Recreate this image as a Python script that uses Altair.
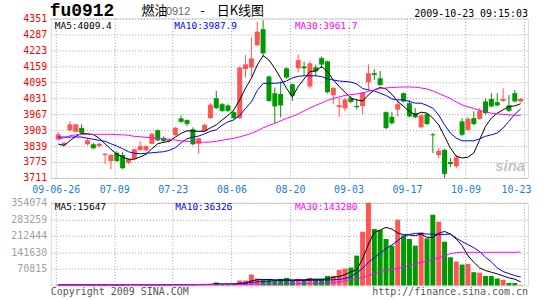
import altair as alt
import pandas as pd

# ---------------- data ----------------
dates = ["06-26","06-29","06-30","07-01","07-02","07-03","07-06","07-07","07-08","07-09",
         "07-10","07-13","07-14","07-15","07-16","07-17","07-20","07-21","07-22","07-23",
         "07-24","07-27","07-28","07-29","07-30","07-31","08-03","08-04","08-05","08-06",
         "08-07","08-10","08-11","08-12","08-13","08-14","08-17","08-18","08-19","08-20",
         "08-21","08-24","08-25","08-26","08-27","08-28","08-31","09-01","09-02","09-03",
         "09-04","09-07","09-08","09-09","09-10","09-11","09-14","09-15","09-16","09-17",
         "09-18","09-21","09-22","09-23","09-24","09-25","09-28","09-29","09-30","10-09",
         "10-12","10-13","10-14","10-15","10-16","10-19","10-20","10-21","10-22","10-23"]

opens = [3866,3843,3902,3896,3912,3846,3846,3839,3803,3779,
         3812,3803,3772,3788,3823,3822,3848,3902,3872,3859,
         3883,3950,3943,3906,3848,3900,3951,4031,4007,4002,
         3975,3951,4148,4154,4244,4308,4118,4051,4048,4151,
         4087,4151,4158,4078,4155,4192,4179,4043,3995,3990,
         4032,4000,3999,4095,4131,4111,3975,3956,3985,4051,
         4011,3971,3914,3967,3886,3802,3824,3775,3758,3938,
         3904,3951,3948,4018,4028,4015,4020,4002,4051,4018]

closes = [3886,3852,3926,3926,3892,3862,3830,3848,3808,3803,
          3779,3750,3786,3826,3839,3839,3888,3862,3859,3866,
          3912,3936,3928,3846,3870,3924,4005,3991,3980,3980,
          3951,4154,4167,4191,4298,4211,4020,3998,4002,4114,
          4042,4184,4151,4171,4139,4166,4055,4072,4003,4026,
          4016,3995,4052,4131,4124,4084,3911,3931,4007,4018,
          3958,3954,3962,3927,3882,3820,3727,3767,3794,3884,
          3948,3927,3980,3971,3998,4002,4028,3980,4018,4028]

highs = [3896,3856,3939,3928,3926,3872,3852,3852,3810,3806,
         3818,3815,3790,3830,3859,3842,3892,3906,3878,3868,
         3916,3962,3946,3914,3872,3928,4011,4060,4012,4006,
         3980,4158,4204,4274,4338,4344,4122,4074,4098,4155,
         4090,4207,4178,4180,4166,4199,4182,4076,4032,4030,
         4040,4026,4056,4167,4148,4140,3978,3975,4020,4054,
         4024,3991,3966,3971,3891,3831,3828,3791,3804,3951,
         3956,3978,3991,4031,4051,4051,4071,4044,4064,4032]

lows = [3859,3838,3898,3894,3888,3842,3826,3832,3766,3746,
        3775,3746,3766,3784,3820,3818,3846,3858,3855,3856,
        3880,3932,3918,3842,3808,3896,3948,3988,3975,3976,
        3946,3948,4114,4118,4240,4198,4016,3931,3954,4110,
        4020,4135,4122,4070,4119,4152,4050,4006,3955,3979,
        4010,3986,3966,4064,4104,4080,3906,3924,3958,4014,
        3954,3950,3910,3922,3811,3790,3711,3755,3751,3878,
        3900,3922,3944,3966,3994,3998,4016,3976,4014,4014]

ma5 = [3847,3841,3860,3878,3890,3888,3885,3870,3848,3826,
       3806,3795,3786,3786,3795,3806,3828,3848,3854,3858,
       3875,3890,3900,3899,3898,3898,3912,3924,3944,3962,
       3984,4024,4071,4111,4164,4202,4184,4151,4111,4071,
       4036,4078,4108,4138,4140,4158,4138,4104,4078,4055,
       4031,4024,4020,4044,4064,4074,4068,4047,4018,3998,
       3978,3964,3975,3971,3951,3924,3878,3831,3798,3791,
       3794,3811,3864,3918,3951,3971,3984,3998,4000,4009]

ma10 = [3875,3875,3875,3875,3875,3870,3866,3862,3858,3848,
        3839,3828,3816,3810,3808,3810,3812,3814,3816,3822,
        3832,3852,3868,3875,3879,3888,3898,3904,3922,3936,
        3944,3962,3990,4016,4062,4090,4091,4091,4093,4100,
        4112,4119,4121,4121,4121,4118,4108,4104,4100,4098,
        4096,4088,4070,4064,4060,4051,4042,4028,4024,4024,
        4018,4011,4011,4002,3991,3964,3924,3891,3871,3860,
        3860,3860,3868,3878,3884,3891,3911,3938,3966,3988]

ma30 = [3866,3872,3880,3884,3886,3886,3886,3886,3886,3886,
        3885,3884,3882,3878,3876,3874,3872,3870,3867,3866,
        3863,3860,3858,3855,3854,3854,3855,3858,3862,3866,
        3870,3876,3882,3890,3900,3912,3922,3930,3940,3950,
        3958,3968,3980,3992,4002,4012,4022,4030,4036,4042,
        4045,4048,4052,4058,4064,4070,4072,4074,4075,4076,
        4076,4075,4072,4068,4060,4050,4040,4030,4016,4004,
        3996,3990,3982,3976,3971,3968,3966,3964,3963,3962]

volumes = [3000,2500,3500,3000,4000,2500,3000,2500,3000,3500,
           4500,5000,3000,3500,3000,2500,3500,4500,4000,3000,
           3500,4500,4500,5000,4000,5500,7100,12800,4000,4500,
           5000,21300,21300,46900,30000,24200,24200,24200,28400,32700,
           21000,28400,24200,32700,28400,28400,41200,41200,66800,72500,
           76800,128000,230400,354074,241700,237500,199100,170600,281600,213300,
           199100,170600,227500,201900,302900,273000,187700,120900,102400,89600,
           92000,57000,55000,40500,40500,30000,24000,11000,10500,2700]

vol_ma5 = [3000,2900,3000,3100,3200,3100,3200,3000,3000,3200,
           3300,3700,3800,3900,3800,3500,3100,3400,3500,3500,
           3700,3900,3900,4100,4200,4700,5000,6800,7000,7000,
           7100,9500,11300,19700,24500,26000,26000,24200,24200,24200,
           24200,24200,24200,27000,27000,27000,28400,35500,38400,46900,
           58300,66800,113800,177800,227500,237500,248900,241700,224700,217600,
           216100,213300,220400,206200,206200,223300,231800,220400,199100,170600,
           128000,99500,75400,64000,56900,49800,41200,32700,27000,15647]

vol_ma10 = [3200,3200,3200,3200,3300,3200,3200,3200,3200,3300,
            3300,3300,3400,3400,3400,3400,3400,3500,3500,3500,
            3500,3600,3700,3800,3900,4000,4300,5100,5300,5400,
            5800,7100,8900,12900,15000,17500,18500,21300,21300,21300,
            21300,21300,21800,22200,22700,23200,23700,24200,26500,30000,
            38400,52600,73900,99500,119400,137900,157800,173500,192000,211900,
            219000,223300,223300,220400,220400,217600,219000,220400,203300,187700,
            174900,162100,145000,120900,101000,75400,59700,51200,42700,36326]

vol_ma30 = [2900,2900,2900,2900,2900,3000,3000,3000,3000,3000,
            3000,3100,3100,3100,3100,3100,3200,3200,3200,3200,
            3300,3300,3300,3400,3400,3500,3600,3900,3900,4000,
            4100,4400,4800,5200,5500,5700,5900,6000,6300,6600,
            7000,7300,7600,8000,8600,9300,10000,12800,15600,19900,
            25600,29900,34100,42700,49800,58300,65400,69700,73900,79600,
            85300,92400,99500,105200,110900,118000,126600,136500,140800,142200,
            142200,142200,142200,142200,142200,142200,142200,142200,142200,143280]

x_tick_labels = ["09-06-26","07-09","07-23","08-06","08-20","09-03","09-17","10-09","10-23"]
price_ticks = [3711,3775,3839,3903,3967,4031,4095,4159,4223,4287,4351]
volume_ticks = [70815,141630,212444,283259,354074]

symbol = "fu0912"
title_parts = ["燃油", "0912", "-", "日K线图"]
timestamp = "2009-10-23 09:15:03"
price_ma_labels = ["MA5:4009.4", "MA10:3987.9", "MA30:3961.7"]
volume_ma_labels = ["MA5:15647", "MA10:36326", "MA30:143280"]
footer_left = "Copyright 2009 SINA.COM"
footer_right = "http://finance.sina.com.cn"
watermark = "sina"

# ---------------- styling ----------------
RED = "#FF5555"
GREEN = "#009900"
GRID = "#A0A0A0"
MONO = "DejaVu Sans Mono"
LINE_COLORS = ["#000000", "#0000FF", "#FF00FF"]

n = len(dates)
df = pd.DataFrame({
    "i": list(range(n)), "date": dates,
    "open": opens, "high": highs, "low": lows, "close": closes,
    "volume": volumes,
    "ma5": ma5, "ma10": ma10, "ma30": ma30,
    "vma5": vol_ma5, "vma10": vol_ma10, "vma30": vol_ma30,
})

PW, PH, VH = 479, 160, 83
D0 = -2.5 / 6
D1 = D0 + PW / 6
grid_vals = [D0 + 10 * k for k in range(len(x_tick_labels))]
label_expr = "[" + ",".join("'%s'" % s for s in x_tick_labels) + "][round((datum.value - (%f)) / 10)]" % D0

xscale = alt.Scale(domain=[D0, D1], nice=False, zero=False)
x_axis_main = alt.Axis(values=grid_vals, labelExpr=label_expr, title=None, grid=True,
                       gridColor=GRID, gridDash=[1, 2], ticks=False, domain=False,
                       labelFlush=False, labelOverlap=False, labelColor="#1A7FD0",
                       labelFont=MONO, labelFontSize=10, labelPadding=7,
                       labelOffset={"condition": {"test": "datum.value > 79", "value": -8}, "value": 0})
x_axis_vol = alt.Axis(values=grid_vals, title=None, grid=True, gridColor=GRID, gridDash=[1, 2],
                      ticks=False, domain=False, labels=False)

yscale = alt.Scale(domain=[price_ticks[0], price_ticks[-1]], nice=False, zero=False)
y_axis = alt.Axis(values=price_ticks, format="d", title=None, grid=True, gridColor=GRID,
                  gridDash=[1, 2], ticks=False, domain=False, labelColor="#FF0000",
                  labelFont=MONO, labelFontSize=10, labelPadding=4, labelOverlap=False)
vscale = alt.Scale(domain=[0, volume_ticks[-1]], nice=False, zero=True)
v_axis = alt.Axis(values=volume_ticks, format="d", title=None, grid=True, gridColor=GRID,
                  gridDash=[1, 2], ticks=False, domain=False, labelColor="#A0A0A0",
                  labelFont=MONO, labelFontSize=10, labelPadding=4, labelOverlap=False)

XM = alt.X("i:Q", scale=xscale, axis=x_axis_main)
XV = alt.X("i:Q", scale=xscale, axis=x_axis_vol)
updown = alt.condition("datum.close > datum.open", alt.value(RED), alt.value(GREEN))
cscale = alt.Scale(domain=["ma5", "ma10", "ma30", "vma5", "vma10", "vma30"],
                   range=LINE_COLORS + LINE_COLORS)

def txt(s, x, y, color="#000000", size=10, font=MONO, align="left", baseline="alphabetic", **kw):
    return alt.Chart(pd.DataFrame({"t": [s]})).mark_text(
        align=align, baseline=baseline, font=font, fontSize=size, color=color, **kw
    ).encode(text="t:N", x=alt.value(x), y=alt.value(y))

base = alt.Chart(df)
wick = base.mark_rule(strokeWidth=1).encode(
    x=XM, y=alt.Y("low:Q", scale=yscale, axis=y_axis), y2="high:Q", color=updown)
body = base.mark_bar(size=5).encode(
    x=XM, y=alt.Y("open:Q", scale=yscale, axis=y_axis), y2="close:Q", color=updown)
ma_lines = base.transform_fold(["ma5", "ma10", "ma30"], as_=["k", "v"]).mark_line(
    strokeWidth=1).encode(x=XM, y=alt.Y("v:Q", scale=yscale, axis=y_axis),
                          color=alt.Color("k:N", scale=cscale, legend=None))

# invisible frame that fixes the page bounds to the window
frame = alt.Chart(pd.DataFrame({"z": [0]})).mark_rule(strokeOpacity=0, opacity=0).encode(
    x=alt.value(-50), x2=alt.value(495), y=alt.value(-17), y2=alt.value(283))

main = alt.layer(
    wick, body, ma_lines,
    txt(watermark, 446, 153, color="#C4C4C4", size=15, font="Liberation Sans",
        fontStyle="italic", fontWeight="bold"),
    txt(price_ma_labels[0], 4, 10.5, LINE_COLORS[0], 9.5),
    txt(price_ma_labels[1], 124, 10.5, LINE_COLORS[1], 9.5),
    txt(price_ma_labels[2], 245, 10.5, LINE_COLORS[2], 9.5),
    txt(symbol, -1, -2.5, "#000000", 18, "Liberation Mono", fontWeight="bold"),
    txt(title_parts[0], 91, -3.3, "#000000", 13, "Noto Sans CJK SC"),
    txt(title_parts[1], 115.5, -3.6, "#666666", 11, "Liberation Sans"),
    txt(title_parts[2], 150, -3.6, "#000000", 13, "Noto Sans CJK SC"),
    txt(title_parts[3], 166.5, -3.3, "#000000", 13, "Noto Sans CJK SC"),
    txt(timestamp, 479, -1.3, "#000000", 10, align="right"),
    frame,
).properties(width=PW, height=PH)

vbars = base.mark_bar(size=5).encode(
    x=XV, y=alt.Y("volume:Q", scale=vscale, axis=v_axis), color=updown)
v_lines = base.transform_fold(["vma5", "vma10", "vma30"], as_=["k", "v"]).mark_line(
    strokeWidth=1).encode(x=XV, y=alt.Y("v:Q", scale=vscale, axis=v_axis),
                          color=alt.Color("k:N", scale=cscale, legend=None))

vol = alt.layer(
    vbars, v_lines,
    txt(volume_ma_labels[0], 4, 7.5, LINE_COLORS[0], 9.5),
    txt(volume_ma_labels[1], 125, 7.5, LINE_COLORS[1], 9.5),
    txt(volume_ma_labels[2], 245, 7.5, LINE_COLORS[2], 9.5),
    txt(footer_left, 0, 93, "#555555", 10),
    txt(footer_right, 479, 93, "#555555", 10, align="right"),
).properties(width=PW, height=VH)

chart = alt.vconcat(main, vol, spacing=25, bounds="flush").properties(
    padding=0, autosize=alt.AutoSizeParams(type="pad")
).configure_view(stroke="#A0A0A0", strokeWidth=1).configure(background="#FFFFFF")

chart.save("out.html", embed_options={"renderer": "svg", "actions": False})
